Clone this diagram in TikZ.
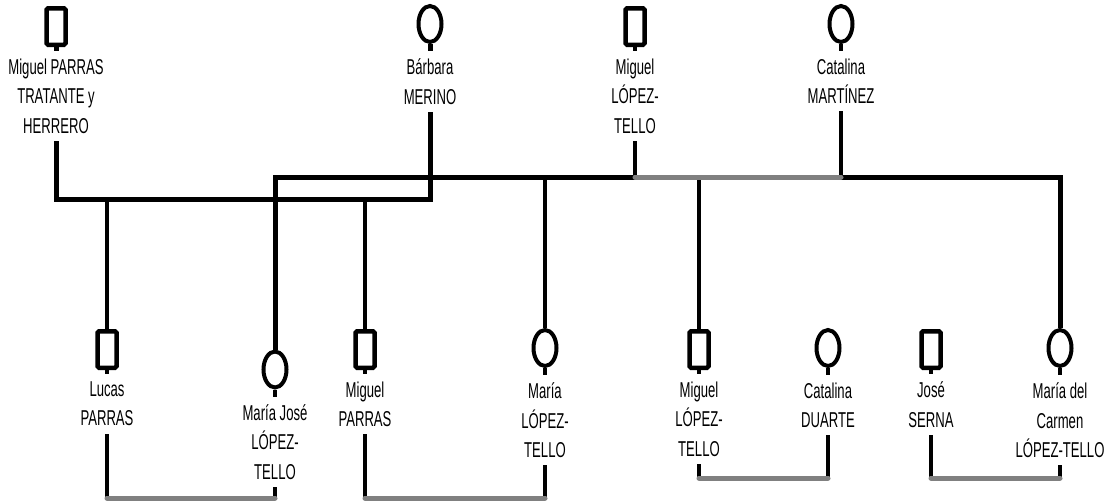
\documentclass[tikz,border=0pt]{standalone}
\usepackage{fontspec}
\newfontfamily\narrowfont{Liberation Sans}[FakeStretch=0.61]
\usepackage{tikz}
\usetikzlibrary{positioning,shapes.geometric,backgrounds}

\begin{document}
\begin{tikzpicture}[
  x=1pt, y=-1pt,
  male/.style={rectangle, draw, fill=white, line width=4.5pt, rounded corners=1.5pt, minimum width=19pt, minimum height=36.5pt, inner sep=0pt},
  female/.style={ellipse, draw, fill=white, line width=4pt, minimum width=23pt, minimum height=36pt, inner sep=0pt},
  nametag/.style={fill=white, align=center, inner xsep=1pt, inner ysep=7.5pt, font=\narrowfont\fontsize{21.5}{29.5}\selectfont},
  family/.style={line width=5pt},
  parent/.style={line width=4.5pt},
  child/.style={line width=3.3pt},
  spouse/.style={line width=5pt, draw=black!50, line cap=round},
]
  \useasboundingbox (0,0) rectangle (1114,501);

  % levels of the connecting lines
  \coordinate (famB) at (0,177);
  \coordinate (famA) at (0,199);
  \coordinate (wedB) at (0,478);
  \coordinate (wedA) at (0,498);

  % first generation
  \node[male] (mptrat) at (56,26.5) {};
  \node[nametag, below=4pt of mptrat] (mptratT) {Miguel PARRAS\\TRATANTE y\\HERRERO};
  \node[female] (barb) at (430,24) {};
  \node[nametag, below=7pt of barb] (barbT) {Bárbara\\MERINO};
  \node[male] (mlt) at (635,26.5) {};
  \node[nametag, below=4pt of mlt] (mltT) {Miguel\\LÓPEZ-\\TELLO};
  \node[female] (cmart) at (841,24) {};
  \node[nametag, below=7pt of cmart] (cmartT) {Catalina\\MARTÍNEZ};

  % second generation
  \node[male] (lucas) at (107,349.5) {};
  \node[nametag, below=4pt of lucas] (lucasT) {Lucas\\PARRAS};
  \node[female] (mjose) at (275,369.5) {};
  \node[nametag, below=7pt of mjose] (mjoseT) {María José\\LÓPEZ-\\TELLO};
  \node[male] (mparras) at (365,349.5) {};
  \node[nametag, below=4pt of mparras] (mparrasT) {Miguel\\PARRAS};
  \node[female] (maria) at (545,348) {};
  \node[nametag, below=7pt of maria] (mariaT) {María\\LÓPEZ-\\TELLO};
  \node[male] (mltjr) at (699,349.5) {};
  \node[nametag, below=4pt of mltjr] (mltjrT) {Miguel\\LÓPEZ-\\TELLO};
  \node[female] (cduarte) at (828,348) {};
  \node[nametag, below=7pt of cduarte] (cduarteT) {Catalina\\DUARTE};
  \node[male] (jserna) at (931,349.5) {};
  \node[nametag, below=4pt of jserna] (jsernaT) {José\\SERNA};
  \node[female] (mcarmen) at (1060,348) {};
  \node[nametag, below=7pt of mcarmen] (mcarmenT) {María del\\Carmen\\LÓPEZ-TELLO};

  \begin{pgfonlayer}{background}
    % Parras - Merino
    \draw[family] (mptrat.south) |- (barb |- famA) -- (barb.south);
    \draw[child] (lucas.north) -- (lucas |- famA);
    \draw[child] (mparras.north) -- (mparras |- famA);

    % López-Tello - Martínez
    \draw[family] (mjose.north) |- (mlt |- famB);
    \draw[family] (cmart |- famB) -| (mcarmen.north);
    \draw[parent] (mlt.south) -- (mlt |- famB);
    \draw[parent] (cmart.south) -- (cmart |- famB);
    \draw[child] (maria.north) -- (maria |- famB);
    \draw[child] (mltjr.north) -- (mltjr |- famB);
    \draw[spouse] (mlt |- famB) -- (cmart |- famB);

    % couples below
    \draw[parent] (lucas.south) -- (lucas |- wedA);
    \draw[parent] (mjose.south) -- (mjose |- wedA);
    \draw[parent] (mparras.south) -- (mparras |- wedA);
    \draw[parent] (maria.south) -- (maria |- wedA);
    \draw[parent] (mltjr.south) -- (mltjr |- wedB);
    \draw[parent] (cduarte.south) -- (cduarte |- wedB);
    \draw[parent] (jserna.south) -- (jserna |- wedB);
    \draw[parent] (mcarmen.south) -- (mcarmen |- wedB);
    \draw[spouse] (lucas |- wedA) -- (mjose |- wedA);
    \draw[spouse] (mparras |- wedA) -- (maria |- wedA);
    \draw[spouse] (mltjr |- wedB) -- (cduarte |- wedB);
    \draw[spouse] (jserna |- wedB) -- (mcarmen |- wedB);
  \end{pgfonlayer}
\end{tikzpicture}
\end{document}
